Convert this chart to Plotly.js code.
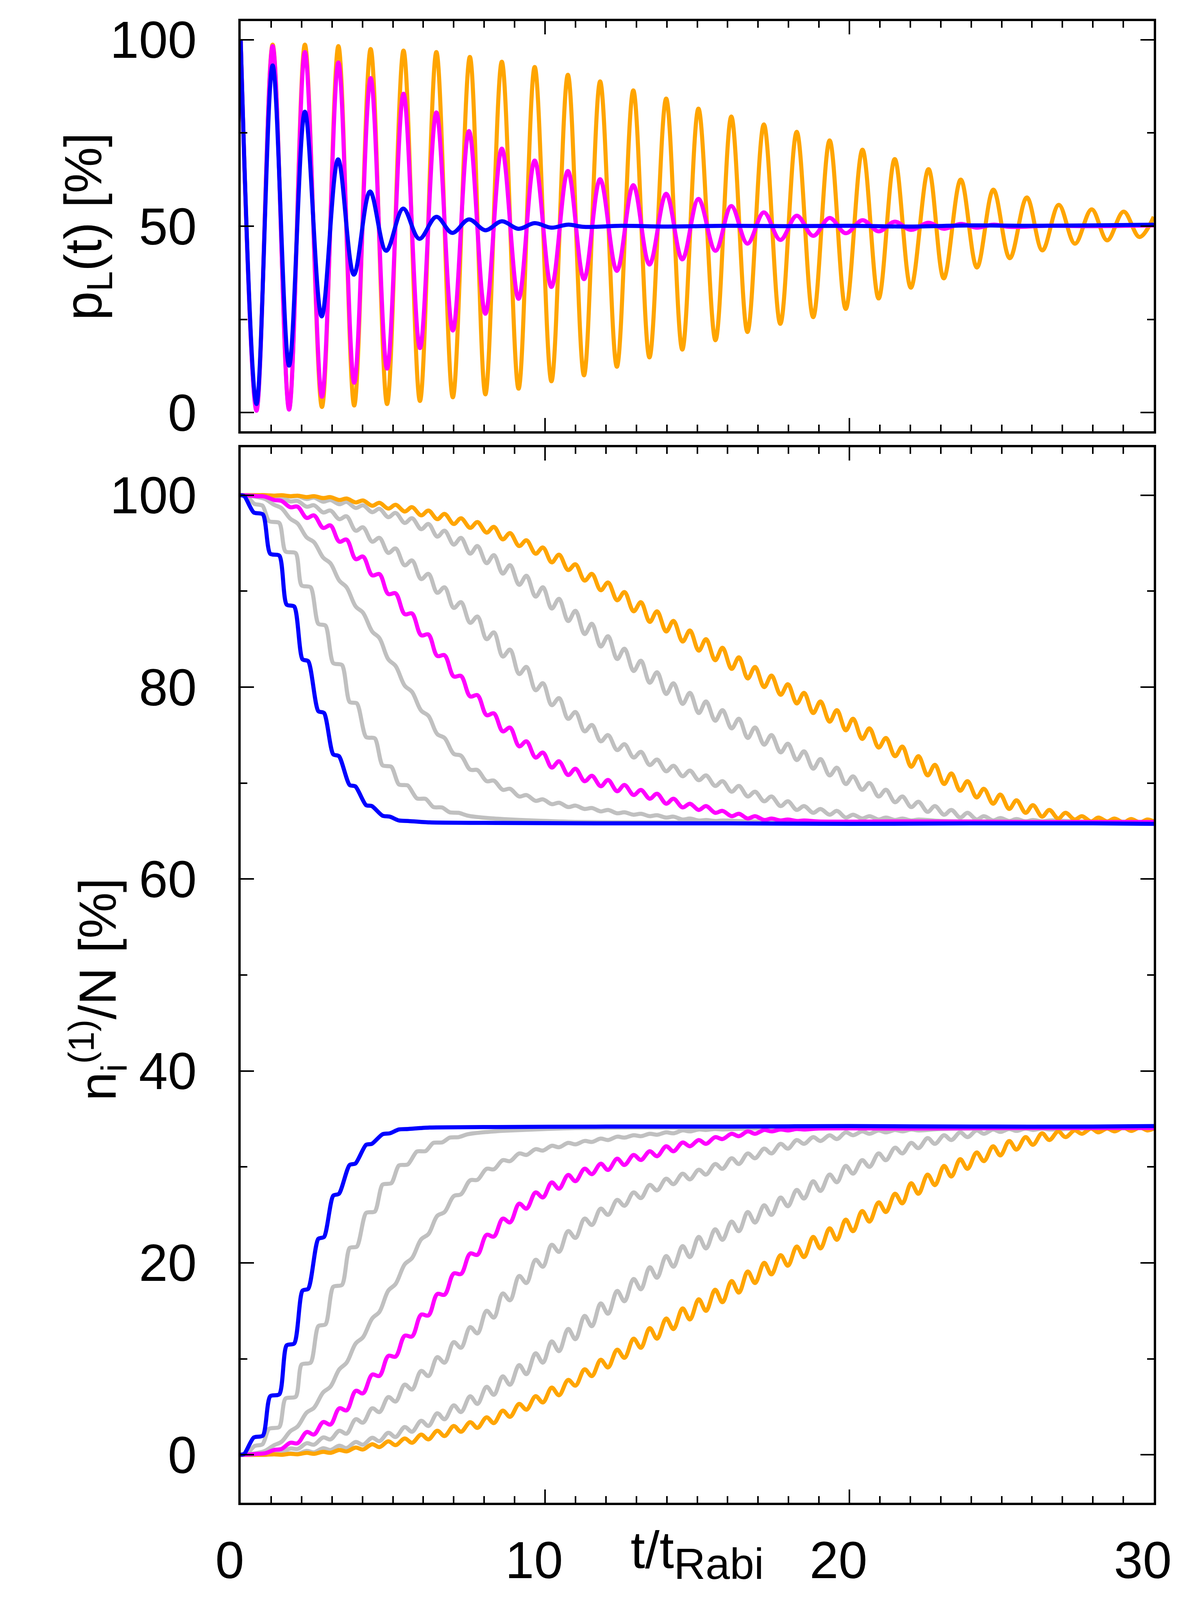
<!DOCTYPE html>
<html>
<head>
<meta charset="utf-8">
<script src="https://cdn.plot.ly/plotly-3.0.1.min.js"></script>
<style>html,body{margin:0;padding:0;background:#fff;}</style>
</head>
<body>
<div id="chart" style="width:3056px;height:4128px;"></div>
<script>
// ---------------- TOP PANEL: p_L(t) [%] (extrema) ----------------
const topOrangeT = [0, 0.52, 1.05, 1.59, 2.11, 2.67, 3.21, 3.73, 4.27, 4.81, 5.35, 5.89, 6.43, 6.97, 7.53, 8.04, 8.58, 9.13, 9.66, 10.21, 10.75, 11.28, 11.81, 12.36, 12.90, 13.43, 13.98, 14.51, 15.04, 15.60, 16.12, 16.65, 17.19, 17.73, 18.27, 18.81, 19.35, 19.88, 20.43, 20.96, 21.49, 22.02, 22.60, 23.10, 23.66, 24.19, 24.73, 25.27, 25.83, 26.34, 26.88, 27.41, 27.96, 28.47, 29.01, 29.53, 30.0];
const topOrangeV = [100, 1.0, 98.7, 1.0, 98.7, 1.5, 98.3, 1.9, 97.5, 2.3, 97.1, 3.1, 96.7, 4.1, 95.4, 4.9, 94.1, 6.4, 92.7, 8.4, 90.6, 10.0, 88.8, 12.3, 86.4, 14.8, 84.2, 16.9, 81.5, 19.4, 79.4, 21.6, 77.3, 23.8, 75.3, 25.6, 73.0, 27.8, 70.5, 30.6, 68.0, 33.5, 65.3, 36.0, 62.5, 38.9, 59.8, 41.4, 57.7, 43.5, 55.7, 45.3, 54.5, 46.2, 53.9, 47.1, 52.5];

const topMagentaT = [0, 0.52, 1.05, 1.59, 2.11, 2.67, 3.21, 3.73, 4.27, 4.81, 5.35, 5.89, 6.43, 6.97, 7.50, 8.04, 8.58, 9.13, 9.66, 10.21, 10.75, 11.28, 11.81, 12.36, 12.90, 13.43, 13.98, 14.51, 15.04, 15.60, 16.12, 16.65, 17.19, 17.73, 18.27, 18.81, 19.35, 19.88, 20.43, 20.96, 21.49, 22.02, 22.60, 23.10, 23.66, 24.19, 24.73, 25.27, 26.5, 28.0, 30.0];
const topMagentaV = [100, 0.5, 98.3, 0.8, 96.7, 4.25, 93.9, 8.0, 89.7, 11.8, 85.5, 17.3, 80.5, 22.0, 75.5, 26.5, 70.8, 30.5, 67.6, 33.7, 64.8, 35.8, 62.6, 38.0, 61.0, 39.7, 58.7, 41.1, 57.3, 43.4, 55.4, 45.3, 53.7, 46.3, 52.8, 47.4, 52.2, 48.1, 51.6, 48.6, 51.2, 49.0, 50.9, 49.3, 50.6, 49.6, 50.4, 49.8, 50.1, 50.0, 50.2];

const topBlueT = [0, 0.52, 1.05, 1.59, 2.11, 2.66, 3.20, 3.72, 4.25, 4.78, 5.34, 5.87, 6.43, 6.95, 7.50, 8.04, 8.58, 9.13, 9.66, 10.21, 10.75, 11.28, 12.5, 14, 16, 18, 20, 22, 24, 26, 28, 30];
const topBlueV = [100, 2.3, 93.1, 12.6, 80.7, 25.8, 67.9, 37.0, 59.3, 43.4, 54.7, 46.6, 52.5, 48.2, 51.8, 48.9, 51.3, 49.3, 50.8, 49.6, 50.4, 49.8, 50.1, 49.9, 50.1, 50.0, 50.1, 49.9, 50.2, 50.1, 50.2, 50.4];

// ---------------- BOTTOM PANEL: n_i^(1)/N [%] ----------------
// times of the small wiggles (local minimum / local maximum alternately)
const tGrid = [0, 0.26, 0.56, 0.80, 1.10, 1.34, 1.63, 1.87, 2.17, 2.41, 2.71, 2.95, 3.24, 3.48, 3.78, 4.02, 4.32, 4.56, 4.85, 5.09, 5.39, 5.63, 5.93, 6.17, 6.46, 6.70, 7.00, 7.24, 7.54, 7.78, 8.08, 8.32, 8.61, 8.85, 9.15, 9.39, 9.69, 9.93, 10.22, 10.46, 10.76, 11.00, 11.30, 11.54, 11.83, 12.07, 12.37, 12.61, 12.91, 13.15, 13.44, 13.68, 13.98, 14.22, 14.52, 14.76, 15.05, 15.29, 15.59, 15.83, 16.13, 16.37, 16.66, 16.90, 17.20, 17.44, 17.74, 17.98, 18.27, 18.51, 18.81, 19.05, 19.35, 19.59, 19.88, 20.12, 20.42, 20.66, 20.96, 21.20, 21.50, 21.74, 22.03, 22.27, 22.57, 22.81, 23.11, 23.35, 23.64, 23.88, 24.18, 24.42, 24.72, 24.96, 25.25, 25.49, 25.79, 26.03, 26.33, 26.57, 26.86, 27.10, 27.40, 27.64, 27.94, 28.18, 28.47, 28.71, 29.01, 29.25, 29.55, 29.79, 30.0];

// blue (staircase: start and end of each plateau)
const tBlue = [0, 0.12, 0.43, 0.73, 0.97, 1.27, 1.51, 1.76, 2.03, 2.22, 2.55, 2.74, 3.04, 3.23, 3.58, 3.77, 4.12, 4.31, 4.66, 4.90, 5.2, 5.5, 6.2, 8, 12, 16, 20, 24, 28, 30];
const dnBlue = [100, 99.9, 98.2, 98.0, 93.9, 93.7, 88.6, 88.4, 82.9, 82.7, 77.5, 77.3, 73.0, 72.8, 69.8, 69.65, 67.7, 67.6, 66.6, 66.5, 66.1, 66.05, 65.9, 65.85, 65.8, 65.8, 65.75, 65.8, 65.8, 65.75];
const upBlue = [0, 0.1, 1.8, 2.0, 6.1, 6.3, 11.4, 11.6, 17.1, 17.3, 22.5, 22.7, 27.0, 27.2, 30.2, 30.35, 32.3, 32.4, 33.4, 33.5, 33.9, 33.95, 34.1, 34.15, 34.2, 34.2, 34.25, 34.2, 34.2, 34.25];

// gray 1 (staircase: start and end of each plateau)
const tGray1 = [0, 0.2, 0.45, 0.72, 0.93, 1.27, 1.47, 1.81, 2.0, 2.3, 2.55, 2.79, 3.04, 3.33, 3.58, 3.82, 4.12, 4.41, 4.66, 4.95, 5.2, 5.49, 5.79, 6.08, 6.33, 6.62, 6.87, 7.16, 7.46, 8.05, 8.64, 9.62, 11, 13, 16, 20, 25, 30];
const dnGray1 = [100, 99.9, 99.1, 98.9, 97.3, 97.1, 94.15, 93.95, 90.6, 90.4, 86.6, 86.4, 82.5, 82.3, 78.45, 78.3, 74.8, 74.65, 71.85, 71.7, 69.85, 69.75, 68.4, 68.35, 67.5, 67.45, 66.95, 66.9, 66.6, 66.37, 66.24, 66.1, 65.95, 65.9, 65.9, 65.9, 65.9, 65.9];
const upGray1 = [0, 0.1, 0.9, 1.1, 2.7, 2.9, 5.85, 6.05, 9.4, 9.6, 13.4, 13.6, 17.5, 17.7, 21.55, 21.7, 25.2, 25.35, 28.15, 28.3, 30.15, 30.25, 31.6, 31.65, 32.5, 32.55, 33.05, 33.1, 33.4, 33.63, 33.76, 33.9, 34.05, 34.1, 34.1, 34.1, 34.1, 34.1];

// gray 2
const dnGray2 = [100, 99.95, 99.8, 99.6, 99.0, 98.65, 97.55, 97.05, 95.6, 95.1, 93.5, 92.9, 91.1, 90.4, 88.4, 87.75, 85.8, 85.1, 82.9, 82.2, 80.15, 79.5, 77.55, 77.0, 75.1, 74.7, 73.05, 72.85, 71.4, 71.35, 70.2, 70.25, 69.3, 69.4, 68.6, 68.75, 68.15, 68.3, 67.8, 67.95, 67.5, 67.65, 67.3, 67.4, 67.05, 67.2, 66.85, 66.95, 66.7, 66.8, 66.55, 66.65, 66.4, 66.5, 66.2, 66.3, 66.1, 66.15, 66.05, 66.1];
const upGray2 = [0, 0.05, 0.2, 0.4, 1.0, 1.35, 2.45, 2.95, 4.4, 4.9, 6.5, 7.1, 8.9, 9.6, 11.6, 12.25, 14.2, 14.9, 17.1, 17.8, 19.85, 20.5, 22.45, 23.0, 24.9, 25.3, 26.95, 27.15, 28.6, 28.65, 29.8, 29.75, 30.7, 30.6, 31.4, 31.25, 31.85, 31.7, 32.2, 32.05, 32.5, 32.35, 32.7, 32.6, 32.95, 32.8, 33.15, 33.05, 33.3, 33.2, 33.45, 33.35, 33.6, 33.5, 33.8, 33.7, 33.9, 33.85, 33.95, 33.9];
const tailTGray2 = [16.66, 18, 20, 25, 30];
const tailDnGray2 = [66.0, 66.0, 65.95, 65.9, 65.9];
const tailUpGray2 = [34.0, 34.0, 34.05, 34.1, 34.1];

// magenta
const dnMagenta = [100, 99.97, 99.9, 99.85, 99.5, 99.4, 98.75, 98.8, 97.63, 97.89, 96.59, 96.85, 95.16, 95.37, 93.34, 93.6, 91.65, 91.78, 89.7, 89.77, 87.6, 87.67, 85.4, 85.48, 83.25, 83.32, 81.11, 81.16, 79.03, 79.16, 77.08, 77.26, 75.39, 75.78, 73.83, 74.35, 72.66, 73.18, 71.62, 72.27, 70.84, 71.49, 70.19, 70.76, 69.67, 70.32, 69.15, 69.8, 68.76, 69.28, 68.37, 68.89, 67.85, 68.37, 67.46, 67.85, 67.2, 67.6, 66.9, 67.1, 66.55, 66.8, 66.3, 66.55, 66.15, 66.3, 66.1, 66.2, 66.05, 66.1];
const upMagenta = [0, 0.03, 0.1, 0.15, 0.5, 0.6, 1.25, 1.2, 2.37, 2.11, 3.41, 3.15, 4.84, 4.63, 6.66, 6.4, 8.35, 8.22, 10.3, 10.23, 12.4, 12.33, 14.6, 14.52, 16.75, 16.68, 18.89, 18.84, 20.97, 20.84, 22.92, 22.74, 24.61, 24.22, 26.17, 25.65, 27.34, 26.82, 28.38, 27.73, 29.16, 28.51, 29.81, 29.24, 30.33, 29.68, 30.85, 30.2, 31.24, 30.72, 31.63, 31.11, 32.15, 31.63, 32.54, 32.15, 32.8, 32.4, 33.1, 32.9, 33.45, 33.2, 33.7, 33.45, 33.85, 33.7, 33.9, 33.8, 33.95, 33.9];
const tailTMagenta = [19, 22, 26, 30];
const tailDnMagenta = [66.0, 66.0, 65.95, 65.95];
const tailUpMagenta = [34.0, 34.0, 34.05, 34.05];

// gray 3
const dnGray3 = [100, 100, 99.95, 99.95, 99.75, 99.75, 99.35, 99.4, 98.8, 98.95, 98.2, 98.4, 97.5, 97.8, 96.3, 96.65, 95.16, 95.55, 93.99, 94.45, 92.69, 93.2, 91.26, 91.8, 89.83, 90.4, 88.26, 88.85, 86.7, 87.35, 85.0, 85.7, 83.19, 83.9, 81.37, 82.1, 79.68, 80.4, 78.12, 78.85, 76.69, 77.4, 75.39, 76.05, 74.35, 75.0, 73.44, 74.05, 72.66, 73.25, 71.88, 72.45, 71.23, 71.8, 70.71, 71.3, 70.3, 70.8, 69.7, 70.2, 69.1, 69.7, 68.6, 69.1, 68.1, 68.6, 67.6, 68.1, 67.2, 67.6, 66.9, 67.3, 66.7, 67.1, 66.4, 66.7, 66.3, 66.55, 66.2, 66.4, 66.15, 66.3, 66.1, 66.2];
const upGray3 = [0, 0, 0.05, 0.05, 0.25, 0.25, 0.65, 0.6, 1.2, 1.05, 1.8, 1.6, 2.5, 2.2, 3.7, 3.35, 4.84, 4.45, 6.01, 5.55, 7.31, 6.8, 8.74, 8.2, 10.17, 9.6, 11.74, 11.15, 13.3, 12.65, 15.0, 14.3, 16.81, 16.1, 18.63, 17.9, 20.32, 19.6, 21.88, 21.15, 23.31, 22.6, 24.61, 23.95, 25.65, 25.0, 26.56, 25.95, 27.34, 26.75, 28.12, 27.55, 28.77, 28.2, 29.29, 28.7, 29.7, 29.2, 30.3, 29.8, 30.9, 30.3, 31.4, 30.9, 31.9, 31.4, 32.4, 31.9, 32.8, 32.4, 33.1, 32.7, 33.3, 32.9, 33.6, 33.3, 33.7, 33.45, 33.8, 33.6, 33.85, 33.7, 33.9, 33.8];
const tailTGray3 = [23, 25, 27.5, 30];
const tailDnGray3 = [66.05, 66.0, 66.0, 65.95];
const tailUpGray3 = [33.95, 34.0, 34.0, 34.05];

// gray 4
const dnGray4 = [100, 100, 100, 100, 99.95, 99.97, 99.85, 99.9, 99.6, 99.75, 99.32, 99.5, 99.06, 99.3, 98.67, 98.95, 98.23, 98.58, 97.71, 98.15, 97.11, 97.6, 96.46, 97.0, 95.68, 96.3, 94.85, 95.55, 93.91, 94.7, 92.92, 93.75, 91.83, 92.7, 90.66, 91.6, 89.43, 90.4, 88.19, 89.2, 86.89, 87.95, 85.53, 86.6, 84.23, 85.3, 82.93, 84.0, 81.68, 82.75, 80.46, 81.55, 79.29, 80.4, 78.25, 79.4, 77.3, 78.5, 76.5, 77.6, 75.7, 76.7, 74.7, 75.8, 74.0, 75.0, 73.2, 74.1, 72.4, 73.3, 71.5, 72.5, 70.8, 71.6, 69.9, 70.7, 69.3, 70.0, 68.6, 69.3, 68.0, 68.6, 67.5, 68.05, 67.0, 67.6, 66.7, 67.2, 66.4, 66.9, 66.2, 66.55, 66.1, 66.35, 66.05, 66.25, 66.0, 66.15, 66.0, 66.1];
const upGray4 = [0, 0, 0, 0, 0.05, 0.03, 0.15, 0.1, 0.4, 0.25, 0.68, 0.5, 0.94, 0.7, 1.33, 1.05, 1.77, 1.42, 2.29, 1.85, 2.89, 2.4, 3.54, 3.0, 4.32, 3.7, 5.15, 4.45, 6.09, 5.3, 7.08, 6.25, 8.17, 7.3, 9.34, 8.4, 10.57, 9.6, 11.81, 10.8, 13.11, 12.05, 14.47, 13.4, 15.77, 14.7, 17.07, 16.0, 18.32, 17.25, 19.54, 18.45, 20.71, 19.6, 21.75, 20.6, 22.7, 21.5, 23.5, 22.4, 24.3, 23.3, 25.3, 24.2, 26.0, 25.0, 26.8, 25.9, 27.6, 26.7, 28.5, 27.5, 29.2, 28.4, 30.1, 29.3, 30.7, 30.0, 31.4, 30.7, 32.0, 31.4, 32.5, 31.95, 33.0, 32.4, 33.3, 32.8, 33.6, 33.1, 33.8, 33.45, 33.9, 33.65, 33.95, 33.75, 34.0, 33.85, 34.0, 33.9];
const tailTGray4 = [27.5, 30];
const tailDnGray4 = [66.0, 65.95];
const tailUpGray4 = [34.0, 34.05];

// orange
const dnOrange = [100, 100, 100, 100, 99.95, 100, 99.9, 99.95, 99.8, 99.9, 99.7, 99.8, 99.5, 99.65, 99.25, 99.45, 98.9, 99.2, 98.6, 99.0, 98.3, 98.75, 97.9, 98.4, 97.5, 98.05, 97.0, 97.6, 96.6, 97.2, 96.1, 96.7, 95.4, 96.05, 94.7, 95.3, 93.9, 94.55, 93.0, 93.8, 92.2, 92.8, 91.1, 91.8, 90.1, 90.9, 89.05, 89.9, 87.9, 88.85, 86.8, 87.9, 85.8, 86.9, 84.75, 85.9, 83.8, 85.0, 82.8, 84.1, 81.9, 83.1, 80.9, 82.1, 80.0, 81.2, 79.2, 80.3, 78.3, 79.4, 77.3, 78.5, 76.4, 77.6, 75.5, 76.7, 74.6, 75.7, 73.7, 74.7, 72.8, 73.8, 71.7, 72.8, 70.8, 71.9, 69.9, 71.0, 69.2, 70.2, 68.5, 69.4, 67.85, 68.8, 67.3, 68.2, 66.9, 67.7, 66.5, 67.2, 66.3, 66.9, 66.2, 66.55, 66.0, 66.4, 66.0, 66.3, 65.9, 66.25, 65.9, 66.2, 66.0];
const upOrange = [0, 0, 0, 0, 0.05, 0, 0.1, 0.05, 0.2, 0.1, 0.3, 0.2, 0.5, 0.35, 0.75, 0.55, 1.1, 0.8, 1.4, 1.0, 1.7, 1.25, 2.1, 1.6, 2.5, 1.95, 3.0, 2.4, 3.4, 2.8, 3.9, 3.3, 4.6, 3.95, 5.3, 4.7, 6.1, 5.45, 7.0, 6.2, 7.8, 7.2, 8.9, 8.2, 9.9, 9.1, 10.95, 10.1, 12.1, 11.15, 13.2, 12.1, 14.2, 13.1, 15.25, 14.1, 16.2, 15.0, 17.2, 15.9, 18.1, 16.9, 19.1, 17.9, 20.0, 18.8, 20.8, 19.7, 21.7, 20.6, 22.7, 21.5, 23.6, 22.4, 24.5, 23.3, 25.4, 24.3, 26.3, 25.3, 27.2, 26.2, 28.3, 27.2, 29.2, 28.1, 30.1, 29.0, 30.8, 29.8, 31.5, 30.6, 32.15, 31.2, 32.7, 31.8, 33.1, 32.3, 33.5, 32.8, 33.7, 33.1, 33.8, 33.45, 34.0, 33.6, 34.0, 33.7, 34.1, 33.75, 34.1, 33.8, 34.0];

const yTitleTop = 'p<sub>L</sub>(t) [%]';
const yTitleBottom = 'n<sub>i</sub><sup>(1)</sup>/N [%]';
const xTitle = 't/t<sub><span style="font-size:112px">Rabi</span></sub>';

// ---------------- styles ----------------
const COLORS = {orange: '#FFA500', magenta: '#FF00FF', blue: '#0000FF', gray: '#C0C0C0'};
const LW = 10.5;
const FONT = 'Liberation Sans, Arial, Helvetica, sans-serif';

function curve(xs, ys, color, xa, ya, smooth) {
  return {x: xs, y: ys, type: 'scatter', mode: 'lines', xaxis: xa, yaxis: ya,
          line: {color: color, width: LW, shape: 'spline', smoothing: smooth || 1}, hoverinfo: 'skip'};
}
function gridCurve(vals, tailT, tailV, color) {
  const xs = tGrid.slice(0, vals.length).concat(tailT || []);
  const ys = vals.concat(tailV || []);
  return curve(xs, ys, color, 'x', 'y');
}

const traces = [
  curve(topOrangeT, topOrangeV, COLORS.orange, 'x2', 'y2'),
  curve(topMagentaT, topMagentaV, COLORS.magenta, 'x2', 'y2'),
  curve(topBlueT, topBlueV, COLORS.blue, 'x2', 'y2'),

  curve(tGray1, dnGray1, COLORS.gray, 'x', 'y', 0.7),
  curve(tGray1, upGray1, COLORS.gray, 'x', 'y', 0.7),
  gridCurve(dnGray2, tailTGray2, tailDnGray2, COLORS.gray),
  gridCurve(upGray2, tailTGray2, tailUpGray2, COLORS.gray),
  gridCurve(dnGray3, tailTGray3, tailDnGray3, COLORS.gray),
  gridCurve(upGray3, tailTGray3, tailUpGray3, COLORS.gray),
  gridCurve(dnGray4, tailTGray4, tailDnGray4, COLORS.gray),
  gridCurve(upGray4, tailTGray4, tailUpGray4, COLORS.gray),
  gridCurve(dnOrange, [], [], COLORS.orange),
  gridCurve(upOrange, [], [], COLORS.orange),
  gridCurve(dnMagenta, tailTMagenta, tailDnMagenta, COLORS.magenta),
  gridCurve(upMagenta, tailTMagenta, tailUpMagenta, COLORS.magenta),
  curve(tBlue, dnBlue, COLORS.blue, 'x', 'y', 0.7),
  curve(tBlue, upBlue, COLORS.blue, 'x', 'y', 0.7)
];

const tickCommon = {
  ticks: 'inside', tickcolor: 'black', tickwidth: 4,
  showline: true, linecolor: 'black', linewidth: 6, mirror: 'ticks',
  showgrid: false, zeroline: false,
  tickfont: {family: FONT, size: 133, color: 'black'}
};
const titleFont = {family: FONT, size: 133, color: 'black'};

const layout = {
  width: 3056, height: 4128,
  margin: {l: 616, r: 103, t: 54, b: 281, autoexpand: false},
  paper_bgcolor: 'white', plot_bgcolor: 'white',
  showlegend: false,
  font: {family: FONT, size: 133, color: 'black'},
  xaxis: Object.assign({}, tickCommon, {
    domain: [0, 1], anchor: 'y', range: [0, 30], tick0: 0, dtick: 10, ticklen: 34,
    minor: {dtick: 1, ticks: 'inside', ticklen: 17, tickwidth: 4, tickcolor: 'black', showgrid: false},
    ticklabelstandoff: 27, ticklabelshift: -28
  }),
  xaxis2: Object.assign({}, tickCommon, {
    domain: [0, 1], anchor: 'y2', range: [0, 30], tick0: 0, dtick: 10, ticklen: 34,
    minor: {dtick: 1, ticks: 'inside', ticklen: 17, tickwidth: 4, tickcolor: 'black', showgrid: false},
    showticklabels: false
  }),
  yaxis: Object.assign({}, tickCommon, {
    domain: [0, 0.7124], anchor: 'x', range: [-5, 105], tick0: 0, dtick: 20, ticklen: 34,
    minor: {dtick: 10, ticks: 'inside', ticklen: 17, tickwidth: 4, tickcolor: 'black', showgrid: false},
    ticklabelstandoff: 80
  }),
  yaxis2: Object.assign({}, tickCommon, {
    domain: [0.7232, 1], anchor: 'x2', range: [-5, 105], tick0: 0, dtick: 50, ticklen: 34,
    minor: {dtick: 25, ticks: 'inside', ticklen: 17, tickwidth: 4, tickcolor: 'black', showgrid: false},
    ticklabelstandoff: 80
  }),
  annotations: [
    {text: xTitle, xref: 'paper', yref: 'paper', x: 0.5, y: -0.035,
     xanchor: 'center', yanchor: 'middle', showarrow: false, font: titleFont},
    {text: yTitleTop, xref: 'paper', yref: 'paper', x: -0.1682, y: 0.8613, textangle: -90,
     xanchor: 'center', yanchor: 'middle', showarrow: false, font: titleFont},
    {text: yTitleBottom, xref: 'paper', yref: 'paper', x: -0.1566, y: 0.3464, textangle: -90,
     xanchor: 'center', yanchor: 'middle', showarrow: false, font: titleFont}
  ]
};

Plotly.newPlot('chart', traces, layout, {staticPlot: true, displayModeBar: false});
</script>
</body>
</html>
